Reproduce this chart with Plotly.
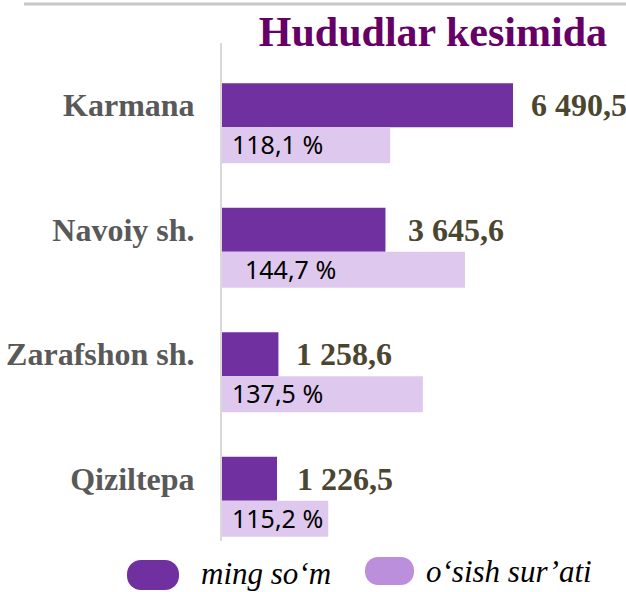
import plotly.graph_objects as go

# ---- data ----
categories = ["Karmana", "Navoiy sh.", "Zarafshon sh.", "Qiziltepa"]
values_ming_som = [6490.5, 3645.6, 1258.6, 1226.5]
growth_pct = [118.1, 144.7, 137.5, 115.2]
# length of the light "o'sish sur'ati" bars as drawn (in x-axis units)
growth_bar_len = [3750, 5420, 4480, 2370]
series_names = ["ming so\u2018m", "o\u2018sish sur\u2019ati"]
title_text = "Hududlar kesimida"

def fmt_num(v):
    s = f"{v:,.1f}"
    return s.replace(",", " ").replace(".", ",")

def fmt_pct(v):
    return f"{v:.1f}".replace(".", ",") + " %"

# ---- style ----
DARK = "#7030A0"
LIGHT = "#DFC8EE"
LEG_LIGHT = "#BC8FDC"
SERIF = "Liberation Serif, Times New Roman, serif"
SANS = "Noto Sans, DejaVu Sans, sans-serif"

W, H = 626, 592
ML, MR, MT, MB = 222, 16, 43, 51
PW, PH = W - ML - MR, H - MT - MB

def px(x):
    return (x - ML) / PW

def py(y):
    return (H - MB - y) / PH

fig = go.Figure()
fig.add_trace(go.Bar(
    y=categories, x=values_ming_som, orientation="h",
    marker=dict(color=DARK, line=dict(width=0)),
    width=0.353, offset=-0.1765, name=series_names[0], showlegend=False,
    hoverinfo="skip",
))
fig.add_trace(go.Bar(
    y=categories, x=growth_bar_len, orientation="h",
    marker=dict(color=LIGHT, line=dict(width=0)),
    width=0.29, offset=0.1765, name=series_names[1], showlegend=False,
    hoverinfo="skip",
))

annotations = []
value_shift = [16, 21, 16, 18]
pct_shift = [8, 21, 8, 8]
for i, (cat, v, g) in enumerate(zip(categories, values_ming_som, growth_pct)):
    annotations.append(dict(
        x=v, y=i, xref="x", yref="y", text=fmt_num(v), showarrow=False,
        xanchor="left", yanchor="middle", xshift=value_shift[i],
        font=dict(family=SERIF, size=32, color="#4B4630", weight="bold"),
    ))
    annotations.append(dict(
        x=0, y=i + 0.1765 + 0.135, xref="x", yref="y", text=fmt_pct(g),
        showarrow=False, xanchor="left", yanchor="middle", xshift=pct_shift[i],
        font=dict(family=SANS, size=25, color="#000000"),
    ))

# legend texts
annotations.append(dict(
    x=px(199), y=py(573), xref="paper", yref="paper", text=series_names[0],
    showarrow=False, xanchor="left", yanchor="middle",
    font=dict(family=SERIF, size=31, color="#000000", style="italic"),
))
annotations.append(dict(
    x=px(424), y=py(571), xref="paper", yref="paper", text=series_names[1],
    showarrow=False, xanchor="left", yanchor="middle",
    font=dict(family=SERIF, size=31, color="#000000", style="italic"),
))

def pill(x0, y0, x1, y1, r):
    k = 0.5523 * r
    pts = [
        ("M", [(x0 + r, y0)]),
        ("L", [(x1 - r, y0)]),
        ("C", [(x1 - r + k, y0), (x1, y0 + r - k), (x1, y0 + r)]),
        ("L", [(x1, y1 - r)]),
        ("C", [(x1, y1 - r + k), (x1 - r + k, y1), (x1 - r, y1)]),
        ("L", [(x0 + r, y1)]),
        ("C", [(x0 + r - k, y1), (x0, y1 - r + k), (x0, y1 - r)]),
        ("L", [(x0, y0 + r)]),
        ("C", [(x0, y0 + r - k), (x0 + r - k, y0), (x0 + r, y0)]),
    ]
    s = ""
    for cmd, ps in pts:
        s += cmd + " ".join(f"{px(a):.5f},{py(b):.5f}" for a, b in ps) + " "
    return s + "Z"

shapes = [
    dict(type="line", xref="paper", yref="paper", x0=px(24), x1=px(626),
         y0=py(4), y1=py(4), line=dict(color="#C8C8C8", width=3)),
    dict(type="path", xref="paper", yref="paper", path=pill(127, 560, 179, 590, 14),
         fillcolor=DARK, line=dict(width=0)),
    dict(type="path", xref="paper", yref="paper", path=pill(365, 557, 414, 585, 13),
         fillcolor=LEG_LIGHT, line=dict(width=0)),
]

fig.update_layout(
    width=W, height=H,
    margin=dict(l=ML, r=MR, t=MT, b=MB, pad=0, autoexpand=False),
    paper_bgcolor="white", plot_bgcolor="white",
    barmode="overlay",
    title=dict(text=title_text, xref="paper", x=px(607), xanchor="right",
               yref="container", y=1 - 31 / H, yanchor="middle",
               font=dict(family=SERIF, size=42, color="#660066", weight="bold")),
    xaxis=dict(range=[0, 8654], visible=False, fixedrange=True, automargin=False),
    yaxis=dict(
        type="category", autorange="reversed",
        showline=True, linecolor="#D9D9D9", linewidth=2, automargin=False,
        showgrid=False, zeroline=False, ticks="", ticklabelstandoff=19,
        tickfont=dict(family=SERIF, size=32, color="#595959", weight="bold"),
        fixedrange=True,
    ),
    annotations=annotations,
    shapes=shapes,
    showlegend=False,
)

fig.write_html(
    "out.html",
    config={"displayModeBar": False, "staticPlot": True},
    post_script="document.body.style.margin='0';document.body.style.overflow='hidden';",
)
